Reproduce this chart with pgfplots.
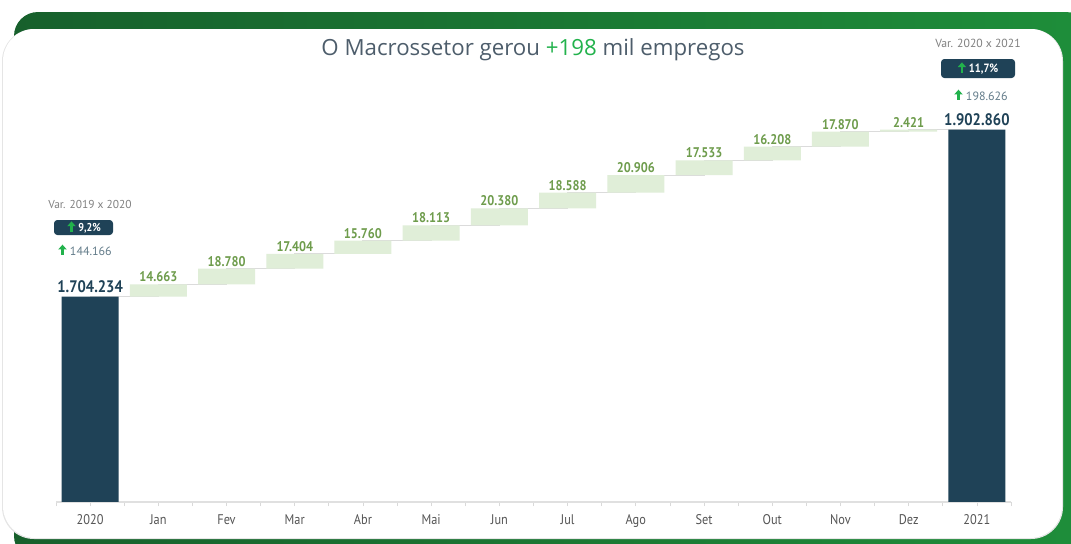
\documentclass[border=0pt]{standalone}
\usepackage{fontspec}
\setmainfont{PT Sans}
\newfontfamily\condf[FakeStretch=0.88]{PT Sans}
\newfontfamily\titlef{Open Sans}
\usepackage{pgfplots}
\usepackage{pgfplotstable}
\pgfplotsset{compat=1.18}
\usetikzlibrary{arrows.meta}
\definecolor{navy}{HTML}{1F4257}
\definecolor{lgreen}{HTML}{E0EED8}
\definecolor{labgreen}{HTML}{6E9C4C}
\definecolor{arrgreen}{HTML}{22B24C}
\definecolor{titlegray}{HTML}{4D5D6B}
\definecolor{tickgray}{HTML}{555555}
\definecolor{gA}{HTML}{17602C}
\definecolor{gB}{HTML}{1E8E3A}

\pgfplotstableread{
x base dark delta
0 0 1704234 0
1 1704234 0 14663
2 1718897 0 18780
3 1737677 0 17404
4 1755081 0 15760
5 1770841 0 18113
6 1788954 0 20380
7 1809334 0 18588
8 1827922 0 20906
9 1848828 0 17533
10 1866361 0 16208
11 1882569 0 17870
12 1900439 0 2421
13 0 1902860 0
}\bars

\pgfplotstableread{
x y
0 1704234
1 1718897
2 1737677
3 1755081
4 1770841
5 1788954
6 1809334
7 1827922
8 1848828
9 1866361
10 1882569
11 1900439
12 1902860
13 1902860
}\conn

\pgfplotstableread{
x top label
1 1718897 14.663
2 1737677 18.780
3 1755081 17.404
4 1770841 15.760
5 1788954 18.113
6 1809334 20.380
7 1827922 18.588
8 1848828 20.906
9 1866361 17.533
10 1882569 16.208
11 1900439 17.870
12 1902860 2.421
}\mlabels

\pgfplotstableread{
x top label
0 1704234 1.704.234
13 1902860 1.902.860
}\ylabels

\newcommand{\uparr}{\tikz[baseline=0pt]{\fill[arrgreen] (-0.95pt,0pt) rectangle (0.95pt,4.6pt); \fill[arrgreen] (-3.2pt,4.3pt) -- (3.2pt,4.3pt) -- (0pt,7.9pt) -- cycle;}}

\begin{document}
\begin{tikzpicture}
\path[use as bounding box] (0pt,0pt) rectangle (803.25pt,-407.25pt);
\begin{scope}[x=0.75pt,y=-0.75pt]
\shade[left color=gA,right color=gB,rounded corners=18pt] (14,12) rectangle (1090,560);
\fill[black!10,rounded corners=24pt] (2,29) rectangle (1063,539);
\fill[white,rounded corners=24pt] (3,29) rectangle (1062,538);
\end{scope}

\pgfplotsset{common/.style={
  width=716.25pt, height=331.5pt, scale only axis,
  xmin=-0.5, xmax=13.5, ymin=1460000, ymax=1985700,
  at={(42pt,-376.5pt)}, anchor=south west,
}}

\begin{axis}[common,
  axis x line=bottom, axis y line=none,
  x axis line style={-, draw=black!12, line width=0.8pt},
  xtick={0,...,13},
  xticklabels={2020,Jan,Fev,Mar,Abr,Mai,Jun,Jul,Ago,Set,Out,Nov,Dez,2021},
  minor xtick={-0.5,0.5,...,13.5},
  tick align=outside, major tick length=3pt, minor tick length=3pt,
  tick style={draw=black!15, line width=0.6pt},
  xticklabel style={font=\condf\fontsize{10.5pt}{12pt}\selectfont, text=tickgray, yshift=-3pt},
  clip=false,
]
\addplot[const plot, draw=black!14, line width=0.8pt] table[x=x,y=y] {\conn};
\addplot[only marks, mark=none, nodes near coords, point meta=explicit symbolic,
  nodes near coords style={font=\condf\bfseries\fontsize{10.5pt}{12pt}\selectfont, text=labgreen, anchor=south, inner sep=1.5pt}]
  table[x=x,y=top,meta=label] {\mlabels};
\addplot[only marks, mark=none, nodes near coords, point meta=explicit symbolic,
  nodes near coords style={font=\condf\bfseries\fontsize{12.5pt}{14pt}\selectfont, text=navy, anchor=south, inner sep=2.5pt}]
  table[x=x,y=top,meta=label] {\ylabels};
\end{axis}

\begin{axis}[common, hide axis, ybar stacked, bar width=42.75pt]
\addplot[draw=none, fill=none] table[x=x,y=base] {\bars};
\addplot[draw=none, fill=navy] table[x=x,y=dark] {\bars};
\addplot[draw=none, fill=lgreen] table[x=x,y=delta] {\bars};
\end{axis}

\begin{scope}[x=0.75pt,y=-0.75pt]
\node[font=\titlef\fontsize{16.7pt}{19pt}\selectfont, text=titlegray] at (533,50) {O Macrossetor gerou \textcolor{arrgreen}{+198} mil empregos};
% left annotation
\node[font=\fontsize{8.6pt}{10pt}\selectfont, text=black!50] at (90,204) {Var. 2019 x 2020};
\fill[navy, rounded corners=2.5pt] (54,220) rectangle (113,235);
\node[font=\condf\bfseries\fontsize{8.6pt}{10pt}\selectfont, text=white] at (84,227.5) {\uparr\ 9,2\%};
\node[font=\fontsize{9pt}{10pt}\selectfont, text=navy!70] at (85,250) {\uparr\ 144.166};
% right annotation
\node[font=\fontsize{8.8pt}{10pt}\selectfont, text=black!50] at (978,43) {Var. 2020 x 2021};
\fill[navy, rounded corners=2.5pt] (941,59) rectangle (1015,78);
\node[font=\condf\bfseries\fontsize{9pt}{10pt}\selectfont, text=white] at (978,68.5) {\uparr\ 11,7\%};
\node[font=\fontsize{9pt}{10pt}\selectfont, text=navy!70] at (981,95) {\uparr\ 198.626};
\end{scope}
\end{tikzpicture}
\end{document}
